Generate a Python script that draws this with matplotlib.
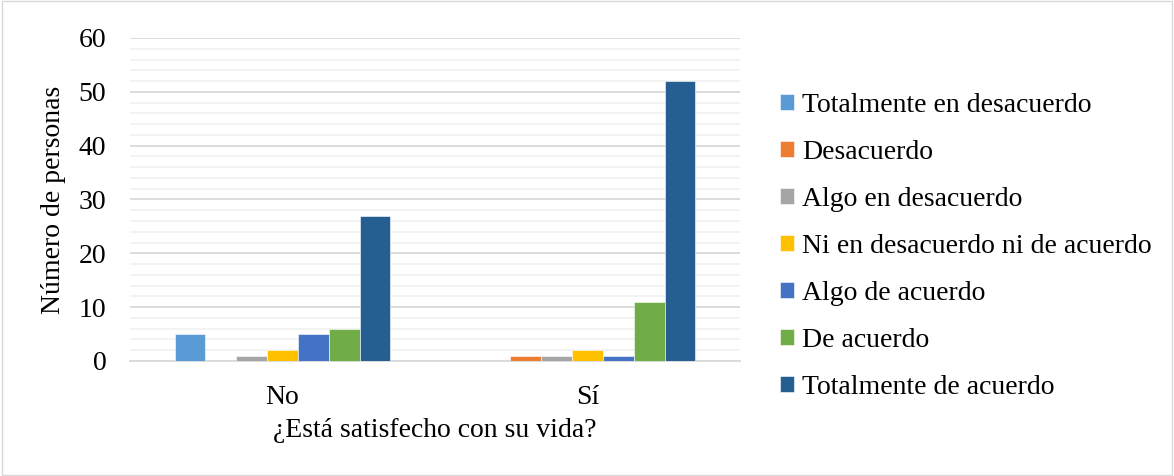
import matplotlib
matplotlib.use("Agg")
import matplotlib.pyplot as plt
import numpy as np
from matplotlib.patches import Rectangle

categories = ["No", "Sí"]
series_names = ["Totalmente en desacuerdo", "Desacuerdo", "Algo en desacuerdo",
                "Ni en desacuerdo ni de acuerdo", "Algo de acuerdo", "De acuerdo",
                "Totalmente de acuerdo"]
values = {
    "Totalmente en desacuerdo": [5, 0],
    "Desacuerdo": [0, 1],
    "Algo en desacuerdo": [1, 1],
    "Ni en desacuerdo ni de acuerdo": [2, 2],
    "Algo de acuerdo": [5, 1],
    "De acuerdo": [6, 11],
    "Totalmente de acuerdo": [27, 52],
}
colors = ["#5B9BD5", "#ED7D31", "#A5A5A5", "#FFC000", "#4472C4", "#70AD47", "#255E91"]

plt.rcParams['font.family'] = ['Liberation Serif', 'DejaVu Serif']
FS = 20

fig = plt.figure(figsize=(11.74, 4.76), dpi=100)
fig.patches.append(Rectangle((0.002, 0.003), 0.996, 0.994, transform=fig.transFigure,
                             fill=False, edgecolor="#D9D9D9", linewidth=1))
ax = fig.add_axes([130/1174, 115/476, 610/1174, 323/476])

x = np.arange(len(categories))
bw = 0.101
n = len(series_names)
for i, name in enumerate(series_names):
    ax.bar(x + (i - (n - 1) / 2) * bw, values[name], width=bw, color=colors[i],
           label=name, zorder=3, edgecolor="white", linewidth=0.4)

ax.set_xlim(-0.5, 1.5)
ax.set_ylim(0, 60)
ax.set_yticks(np.arange(0, 61, 10))
ax.set_yticks(np.arange(0, 61, 2), minor=True)
ax.grid(axis="y", which="major", color="#D9D9D9", linewidth=1.3, zorder=0)
ax.grid(axis="y", which="minor", color="#F2F2F2", linewidth=1.3, zorder=0)
ax.tick_params(axis="y", which="both", length=0, labelsize=FS, pad=17)
ax.tick_params(axis="x", length=0, labelsize=FS, pad=17)
ax.set_xticks(x)
ax.set_xticklabels(categories)
for s in ["top", "right", "left"]:
    ax.spines[s].set_visible(False)
ax.spines["bottom"].set_color("#D9D9D9")
ax.spines["bottom"].set_linewidth(1.3)

ax.set_ylabel("Número de personas", fontsize=FS, labelpad=9)
ax.set_xlabel("¿Está satisfecho con su vida?", fontsize=FS, labelpad=6)

ax.legend(loc="center left", bbox_to_anchor=(1.024, 0.355), frameon=False, fontsize=FS,
          handlelength=0.5, handleheight=0.5, handletextpad=0.3, labelspacing=0.79)

fig.savefig("out.png", dpi=100)
